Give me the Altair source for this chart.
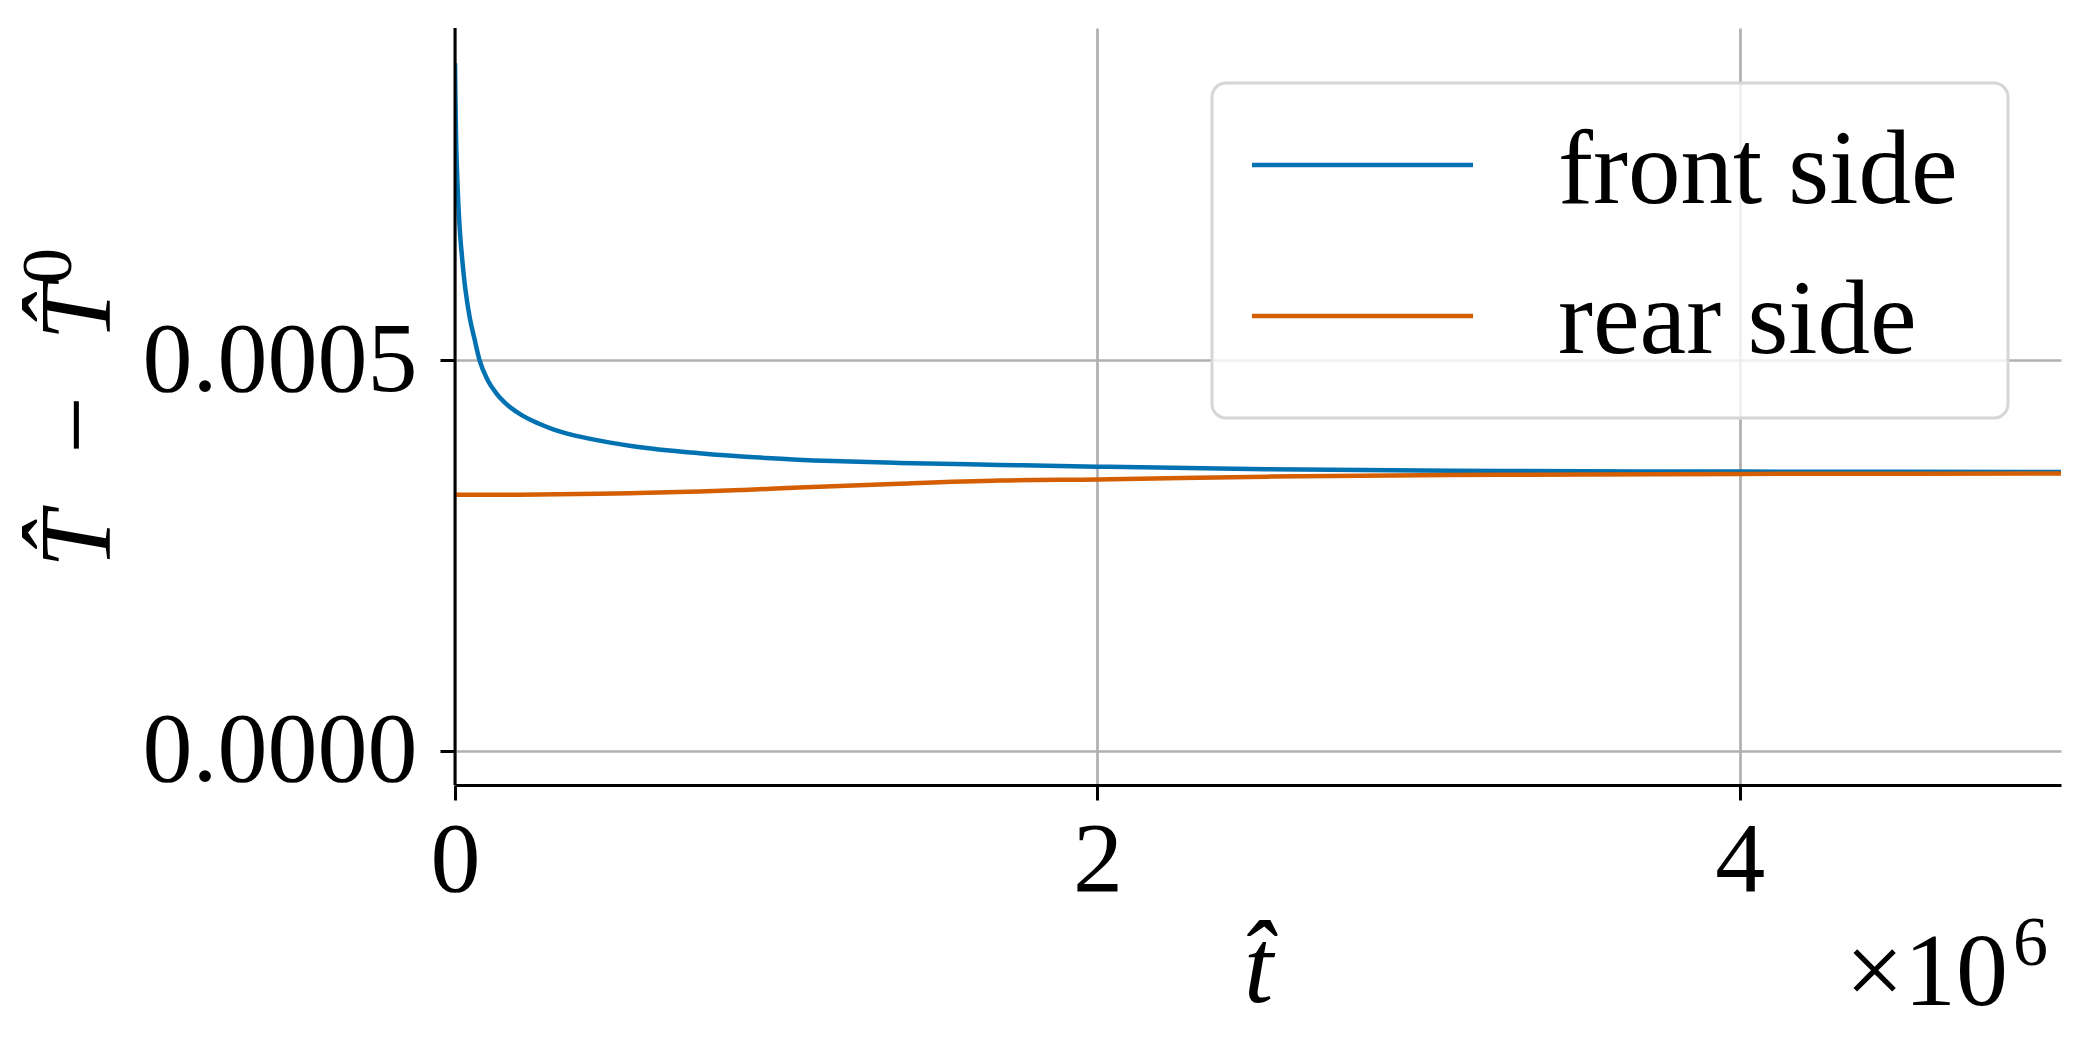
import altair as alt
import pandas as pd

# ---- data ----
time_front = [0, 1500, 3500, 6000, 11000, 16000, 21200, 29600, 37000, 45200, 60800, 76400,
              102300, 128000, 154300, 206400, 260000, 310200, 414100, 554000, 761000,
              969000, 1176000, 1384000, 1696000, 2000000, 2527000, 3255000, 4000000, 5000000]
front_side = [0.00088, 0.00083, 0.00078, 0.000745, 0.000695, 0.00066, 0.000635, 0.0006,
              0.000577, 0.000556, 0.000527, 0.0005, 0.000474, 0.000458, 0.000446, 0.00043,
              0.000419, 0.000411, 0.0004, 0.00039, 0.000381, 0.000375, 0.000371, 0.0003685,
              0.000366, 0.0003638, 0.0003605, 0.0003583, 0.0003575, 0.000357]

time_rear = [0, 200000, 449000, 600000, 761000, 900000, 1072000, 1384000, 1696000,
             2000000, 2527000, 3255000, 4000000, 5000000]
rear_side = [0.000328, 0.000328, 0.000329, 0.0003305, 0.000332, 0.000334, 0.000337,
             0.000342, 0.000346, 0.0003474, 0.000351, 0.0003534, 0.0003545, 0.000355]

series_names = ["front side", "rear side"]
series_colors = ["#0072B2", "#D55E00"]
x_ticks = [0, 2000000, 4000000]
y_ticks = [0.0, 0.0005]
x_domain = [0, 5000000]
y_domain = [-0.0000435, 0.000925]
y_title_main = "T\u0302\u2002\u2212\u2002T\u0302"
y_title_sup = "0"
x_title = "t\u0302"
scale_base = "\u00d710"
scale_exp = "6"

df = pd.concat([
    pd.DataFrame({"t": time_front, "v": front_side, "series": series_names[0]}),
    pd.DataFrame({"t": time_rear, "v": rear_side, "series": series_names[1]}),
])

W, H = 1606, 757
FONT = "Liberation Serif"

lines = alt.Chart(df).mark_line(strokeWidth=4.5, interpolate="monotone", clip=True).encode(
    x=alt.X("t:Q", scale=alt.Scale(domain=x_domain, nice=False, zero=False),
            axis=alt.Axis(values=x_ticks, labelExpr="datum.value / 1000000",
                          title=x_title, titleFontStyle="italic",
                          labelPadding=11, titlePadding=8)),
    y=alt.Y("v:Q", scale=alt.Scale(domain=y_domain, nice=False, zero=False),
            axis=alt.Axis(values=y_ticks, format=".4f", domain=False, title=None,
                          labelPadding=23)),
    color=alt.Color("series:N", scale=alt.Scale(domain=series_names, range=series_colors),
                    legend=None),
)

one = pd.DataFrame({"a": [0]})


def txt(s, **kw):
    return alt.Chart(pd.DataFrame({"label": [s]})).mark_text(
        font=FONT, color="black", **kw)


yaxis_line = alt.Chart(one).mark_rule(color="black", strokeWidth=3).encode(
    x=alt.value(0), y=alt.value(0), y2=alt.value(H))

ytitle1 = txt(y_title_main, fontSize=102, fontStyle="italic", angle=270, align="left",
              baseline="alphabetic").encode(text="label:N", x=alt.value(-345), y=alt.value(540))
ytitle2 = txt(y_title_sup, fontSize=72, angle=270, align="left",
              baseline="alphabetic").encode(text="label:N", x=alt.value(-384), y=alt.value(256))

legend_box = alt.Chart(one).mark_rect(
    fill="white", fillOpacity=0.8, stroke="#d6d6d6", strokeWidth=3, cornerRadius=14
).encode(x=alt.value(757), x2=alt.value(1553), y=alt.value(55), y2=alt.value(390))

leg_line1 = alt.Chart(one).mark_rule(strokeWidth=4.5, color=series_colors[0]).encode(
    x=alt.value(797), x2=alt.value(1018), y=alt.value(137))
leg_line2 = alt.Chart(one).mark_rule(strokeWidth=4.5, color=series_colors[1]).encode(
    x=alt.value(797), x2=alt.value(1018), y=alt.value(288))

leg_text1 = txt(series_names[0], fontSize=105, align="left", baseline="alphabetic").encode(
    text="label:N", x=alt.value(1103), y=alt.value(175))
leg_text2 = txt(series_names[1], fontSize=105, align="left", baseline="alphabetic").encode(
    text="label:N", x=alt.value(1103), y=alt.value(325))

mult_b = txt(scale_base, fontSize=104, align="right", baseline="alphabetic").encode(
    text="label:N", x=alt.value(1553), y=alt.value(977))
mult_e = txt(scale_exp, fontSize=70, align="left", baseline="alphabetic").encode(
    text="label:N", x=alt.value(1558), y=alt.value(937))

chart = alt.layer(
    lines, yaxis_line, ytitle1, ytitle2, legend_box, leg_line1, leg_line2,
    leg_text1, leg_text2, mult_b, mult_e
).properties(
    width=W, height=H,
    autosize=alt.AutoSizeParams(type="none"),
    padding={"left": 447, "top": 20, "right": 20, "bottom": 250},
    background="white",
).configure_axis(
    labelFont=FONT, labelFontSize=100, labelColor="black", labelLimit=0,
    titleFont=FONT, titleFontSize=105, titleFontWeight="normal", titleColor="black",
    domainColor="black", domainWidth=3, tickColor="black", tickWidth=3, tickSize=15,
    gridColor="#b0b0b0", gridWidth=2.7, labelFlush=False, labelOverlap=False,
).configure_view(stroke=None)

chart.save("out.html", embed_options={"renderer": "svg", "actions": False})
